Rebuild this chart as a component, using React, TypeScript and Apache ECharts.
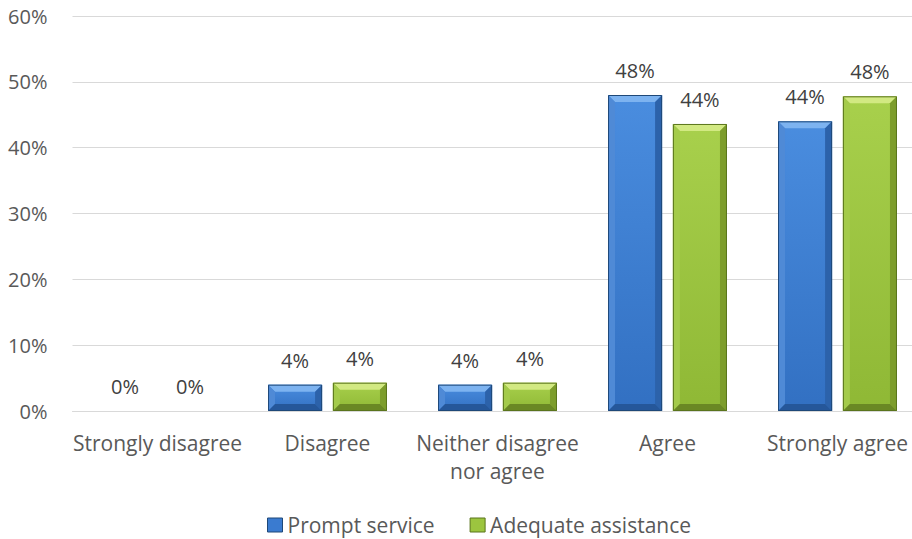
import React, { useEffect, useRef } from "react";
import * as echarts from "echarts";

const categories = ["Strongly disagree", "Disagree", "Neither disagree\nnor agree", "Agree", "Strongly agree"];
const promptService = [0, 4, 4, 48, 44];
const adequateAssistance = [0, 4.3, 4.3, 43.6, 47.8];
const seriesNames = ["Prompt service", "Adequate assistance"];
const yTicks = { min: 0, max: 60, interval: 10 };

const palettes = [
  { face: ["#4a8ddf", "#3270c2"], top: "#7db3f0", left: "#4f8ad6", right: "#2c62aa", bottom: "#25579a", stroke: "#1e4878", legend: "#3a7bd0" },
  { face: ["#a8d04c", "#8fb835"], top: "#d2e982", left: "#a4cb4a", right: "#7d9d2c", bottom: "#6a8824", stroke: "#5a741c", legend: "#9cc53f" },
];

const BAR_RATIO = 0.318;
const GAP_RATIO = 0.2;
const FONT = "'Open Sans', sans-serif";

function makeRender(sIdx: number) {
  const p = palettes[sIdx];
  return (params: any, api: any) => {
    const cat = api.value(0);
    const val = api.value(1);
    const base = api.coord([cat, 0]);
    const topPt = api.coord([cat, val]);
    const band = api.size([1, 0])[0];
    const bw = band * BAR_RATIO;
    const gap = bw * GAP_RATIO;
    const total = bw * 2 + gap;
    const x0 = base[0] - total / 2 + sIdx * (bw + gap);
    const x1 = x0 + bw;
    const y1 = base[1];
    const y0 = topPt[1];
    const h = y1 - y0;
    const children: any[] = [];
    if (h > 0.5) {
      const b = Math.min(7, h / 2.2, bw / 2.2);
      children.push({
        type: "rect",
        shape: { x: x0, y: y0, width: bw, height: h },
        style: {
          fill: new echarts.graphic.LinearGradient(0, 0, 0, 1, [
            { offset: 0, color: p.face[0] },
            { offset: 1, color: p.face[1] },
          ]),
        },
      });
      children.push({ type: "polygon", shape: { points: [[x0, y0], [x1, y0], [x1 - b, y0 + b], [x0 + b, y0 + b]] }, style: { fill: p.top } });
      children.push({ type: "polygon", shape: { points: [[x0, y0], [x0 + b, y0 + b], [x0 + b, y1 - b], [x0, y1]] }, style: { fill: p.left } });
      children.push({ type: "polygon", shape: { points: [[x1, y0], [x1 - b, y0 + b], [x1 - b, y1 - b], [x1, y1]] }, style: { fill: p.right } });
      children.push({ type: "polygon", shape: { points: [[x0, y1], [x0 + b, y1 - b], [x1 - b, y1 - b], [x1, y1]] }, style: { fill: p.bottom } });
      children.push({ type: "rect", shape: { x: x0 + 0.5, y: y0 + 0.5, width: bw - 1, height: h - 1 }, style: { fill: "none", stroke: p.stroke, lineWidth: 1 } });
    }
    children.push({
      type: "text",
      x: x0 + bw / 2,
      y: y0 - 24.5,
      style: {
        text: Math.round(val) + "%",
        fill: "#404040",
        fontSize: 20,
        fontFamily: FONT,
        align: "center",
        verticalAlign: "middle",
      },
    });
    return { type: "group", children };
  };
}

export default function App() {
  const ref = useRef<HTMLDivElement>(null);
  useEffect(() => {
    if (!ref.current) return;
    const chart = echarts.init(ref.current, null, { renderer: "svg" });
    const seriesData = [promptService, adequateAssistance];
    chart.setOption({
      animation: false,
      backgroundColor: "#ffffff",
      grid: { left: 72.5, right: 0.5, top: 16, bottom: 128, containLabel: false },
      legend: {
        left: 267,
        top: 514.5,
        padding: 0,
        itemWidth: 15,
        itemHeight: 14,
        itemGap: 35,
        icon: "rect",
        textStyle: { color: "#595959", fontSize: 21, fontFamily: FONT, lineHeight: 21 },
        data: seriesNames.map((n, i) => ({
          name: n,
          itemStyle: { color: palettes[i].legend, borderColor: palettes[i].stroke, borderWidth: 1 },
        })),
      },
      xAxis: {
        type: "category",
        data: categories,
        axisLine: { show: true, lineStyle: { color: "#d9d9d9", width: 1 } },
        axisTick: { show: false },
        axisLabel: { interval: 0, color: "#595959", fontSize: 21, fontFamily: FONT, lineHeight: 28, margin: 18 },
      },
      yAxis: {
        type: "value",
        min: yTicks.min,
        max: yTicks.max,
        interval: yTicks.interval,
        axisLine: { show: false },
        axisTick: { show: false },
        splitLine: { lineStyle: { color: "#d9d9d9", width: 1 } },
        axisLabel: { formatter: "{value}%", color: "#595959", fontSize: 20, fontFamily: FONT, margin: 25 },
      },
      series: seriesData.map((arr, i) => ({
        type: "custom",
        name: seriesNames[i],
        renderItem: makeRender(i),
        itemStyle: { color: palettes[i].legend },
        encode: { x: 0, y: 1 },
        data: arr.map((v, k) => [k, v]),
        clip: false,
      })),
    });
    return () => chart.dispose();
  }, []);
  return (
    <div style={{ position: "absolute", left: 0, top: 0, width: 912, height: 539, overflow: "hidden" }}>
      <div ref={ref} style={{ width: 923, height: 539 }} />
    </div>
  );
}
